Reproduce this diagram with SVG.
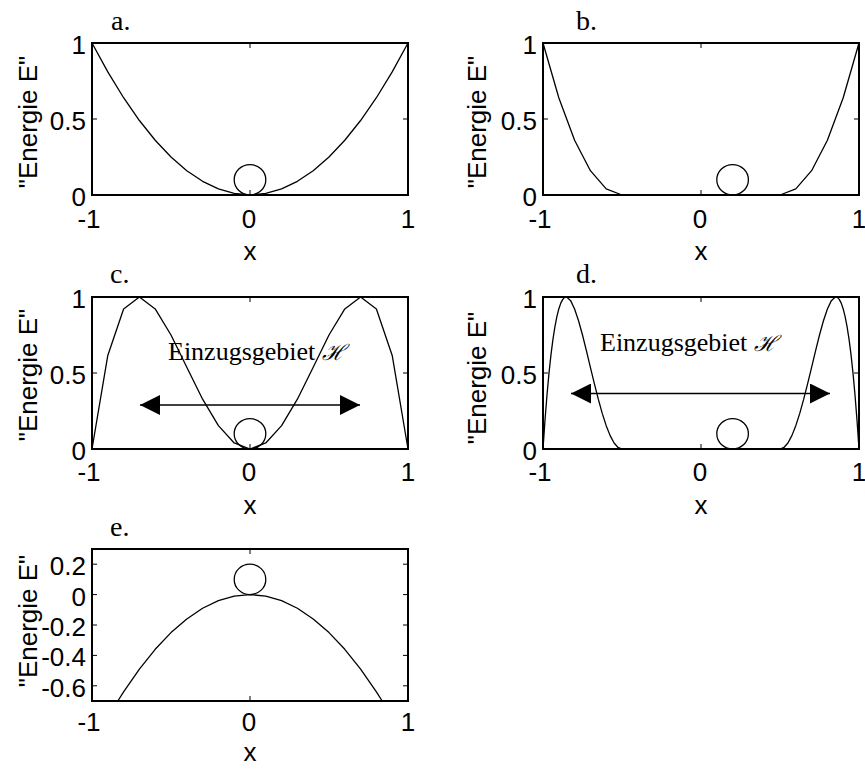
<svg xmlns="http://www.w3.org/2000/svg" width="865" height="769" viewBox="0 0 865 769">
<style>
.box{fill:none;stroke:#000;stroke-width:2}
.tick{stroke:#000;stroke-width:1}
.curve{fill:none;stroke:#000;stroke-width:1.3;stroke-linejoin:round}
.ball{fill:none;stroke:#000;stroke-width:1.3}
.num{font-family:"Liberation Sans",Arial,sans-serif;font-size:26px;fill:#000}
.yl{font-family:"Liberation Sans",Arial,sans-serif;font-size:26px;fill:#000;text-anchor:middle}
.ttl{font-family:"Liberation Serif","Times New Roman",serif;font-size:28px;fill:#000}
.ann{font-family:"Liberation Serif","Times New Roman",serif;font-size:26px;fill:#000}
.arr{stroke:#000;stroke-width:1.5;fill:none}
.e{text-anchor:end}
.m{text-anchor:middle}
</style>
<defs>
<marker id="ah" viewBox="0 0 20 20" refX="20" refY="10" markerWidth="20" markerHeight="20" markerUnits="userSpaceOnUse" orient="auto-start-reverse">
<path d="M0,0 L20,10 L0,20 z" fill="#000"/>
</marker>
</defs>
<rect width="865" height="769" fill="#fff"/>

<g id="panel-a">
<text class="ttl" x="111" y="30">a.</text>
<rect class="box" x="92" y="43" width="316" height="152"/>
<path class="tick" d="M250,43v5M250,195v-5M92,119h5M408,119h-5"/>
<polyline class="curve" points="92,43 107.8,71.88 123.6,97.72 139.4,120.52 155.2,140.28 171,157 186.8,170.68 202.6,181.32 218.4,188.92 234.2,193.48 250,195 265.8,193.48 281.6,188.92 297.4,181.32 313.2,170.68 329,157 344.8,140.28 360.6,120.52 376.4,97.72 392.2,71.88 408,43"/>
<ellipse class="ball" cx="250" cy="179.8" rx="15.8" ry="15.2"/>
<text class="num e" x="86" y="54">1</text>
<text class="num e" x="86" y="130">0.5</text>
<text class="num e" x="86" y="206">0</text>
<text class="num m" x="89" y="228">-1</text>
<text class="num m" x="249" y="228">0</text>
<text class="num m" x="408" y="228">1</text>
<text class="num m" x="250" y="260">x</text>
<text class="yl" transform="translate(37,122) rotate(-90)">"Energie E"</text>
</g>

<g id="panel-b">
<text class="ttl" x="576" y="30">b.</text>
<rect class="box" x="543" y="43" width="316" height="152"/>
<path class="tick" d="M701,43v5M701,195v-5M543,119h5M859,119h-5"/>
<polyline class="curve" points="543,43 558.8,97.72 574.6,140.28 590.4,170.68 606.2,188.92 622,195 780,195 795.8,188.92 811.6,170.68 827.4,140.28 843.2,97.72 859,43"/>
<ellipse class="ball" cx="732.6" cy="179.8" rx="15.8" ry="15.2"/>
<text class="num e" x="537" y="54">1</text>
<text class="num e" x="537" y="130">0.5</text>
<text class="num e" x="537" y="206">0</text>
<text class="num m" x="540" y="228">-1</text>
<text class="num m" x="700" y="228">0</text>
<text class="num m" x="859" y="228">1</text>
<text class="num m" x="701" y="260">x</text>
<text class="yl" transform="translate(486,122) rotate(-90)">"Energie E"</text>
</g>

<g id="panel-c">
<text class="ttl" x="110" y="283">c.</text>
<rect class="box" x="92" y="297" width="316" height="152"/>
<path class="tick" d="M250,297v5M250,449v-5M92,373h5M408,373h-5"/>
<polyline class="curve" points="92,449 107.8,355.43 123.6,308.92 139.4,297.06 155.2,308.92 171,335 186.8,367.28 202.6,399.2 218.4,425.65 234.2,442.98 250,449 265.8,442.98 281.6,425.65 297.4,399.2 313.2,367.28 329,335 344.8,308.92 360.6,297.06 376.4,308.92 392.2,355.43 408,449"/>
<ellipse class="ball" cx="250" cy="433.8" rx="15.8" ry="15.2"/>
<text class="ann" x="168" y="360">Einzugsgebiet <tspan font-family="'DejaVu Serif',serif" font-style="italic" font-size="22">ℋ</tspan></text>
<text class="num e" x="86" y="308">1</text>
<text class="num e" x="86" y="384">0.5</text>
<text class="num e" x="86" y="460">0</text>
<text class="num m" x="89" y="481">-1</text>
<text class="num m" x="249" y="481">0</text>
<text class="num m" x="408" y="481">1</text>
<text class="num m" x="250" y="514">x</text>
<text class="yl" transform="translate(37,375) rotate(-90)">"Energie E"</text>
</g>

<g id="panel-d">
<text class="ttl" x="576" y="283">d.</text>
<rect class="box" x="543" y="297" width="316" height="152"/>
<path class="tick" d="M701,297v5M701,449v-5M543,373h5M859,373h-5"/>
<polyline class="curve" points="543,449 544.97,420.46 546.95,395.5 548.92,373.89 550.9,355.43 552.87,339.9 554.85,327.1 556.82,316.83 558.8,308.92 560.77,303.16 562.75,299.37 564.72,297.4 566.7,297.06 570.65,300.65 574.6,308.92 578.55,320.72 582.5,335 586.45,350.81 590.4,367.28 594.35,383.64 598.3,399.2 602.25,413.38 606.2,425.65 610.15,435.63 614.1,442.98 618.05,447.48 622,449 780,449 783.95,447.48 787.9,442.98 791.85,435.63 795.8,425.65 799.75,413.38 803.7,399.2 807.65,383.64 811.6,367.28 815.55,350.81 819.5,335 823.45,320.72 827.4,308.92 831.35,300.65 835.3,297.06 837.28,297.4 839.25,299.37 841.23,303.16 843.2,308.92 845.18,316.83 847.15,327.1 849.13,339.9 851.1,355.43 853.08,373.89 855.05,395.5 857.03,420.46 859,449"/>
<ellipse class="ball" cx="732.6" cy="433.8" rx="15.8" ry="15.2"/>
<text class="ann" x="600" y="351">Einzugsgebiet <tspan font-family="'DejaVu Serif',serif" font-style="italic" font-size="22">ℋ</tspan></text>
<text class="num e" x="537" y="308">1</text>
<text class="num e" x="537" y="384">0.5</text>
<text class="num e" x="537" y="460">0</text>
<text class="num m" x="540" y="481">-1</text>
<text class="num m" x="700" y="481">0</text>
<text class="num m" x="859" y="481">1</text>
<text class="num m" x="701" y="514">x</text>
<text class="yl" transform="translate(486,378) rotate(-90)">"Energie E"</text>
</g>

<g id="panel-e">
<text class="ttl" x="110" y="536">e.</text>
<rect class="box" x="92" y="549" width="316" height="152"/>
<path class="tick" d="M250,549v5M250,701v-5M92,564.2h5M408,564.2h-5M92,594.6h5M408,594.6h-5M92,625h5M408,625h-5M92,655.4h5M408,655.4h-5M92,685.8h5M408,685.8h-5"/>
<polyline class="curve" points="117.81,701 123.6,691.88 139.4,669.08 155.2,649.32 171,632.6 186.8,618.92 202.6,608.28 218.4,600.68 234.2,596.12 250,594.6 265.8,596.12 281.6,600.68 297.4,608.28 313.2,618.92 329,632.6 344.8,649.32 360.6,669.08 376.4,691.88 382.19,701"/>
<ellipse class="ball" cx="250" cy="579.4" rx="15.8" ry="15.2"/>
<text class="num e" x="86" y="575">0.2</text>
<text class="num e" x="86" y="606">0</text>
<text class="num e" x="86" y="636">-0.2</text>
<text class="num e" x="86" y="666">-0.4</text>
<text class="num e" x="86" y="697">-0.6</text>
<text class="num m" x="89" y="731">-1</text>
<text class="num m" x="249" y="731">0</text>
<text class="num m" x="408" y="731">1</text>
<text class="num m" x="250" y="761">x</text>
<text class="yl" transform="translate(37,621) rotate(-90)">"Energie E"</text>
</g>

<g id="connectors">
<line class="arr" x1="140" y1="405" x2="360" y2="405" marker-start="url(#ah)" marker-end="url(#ah)"/>
<line class="arr" x1="571" y1="393.5" x2="830" y2="393.5" marker-start="url(#ah)" marker-end="url(#ah)"/>
</g>
</svg>
